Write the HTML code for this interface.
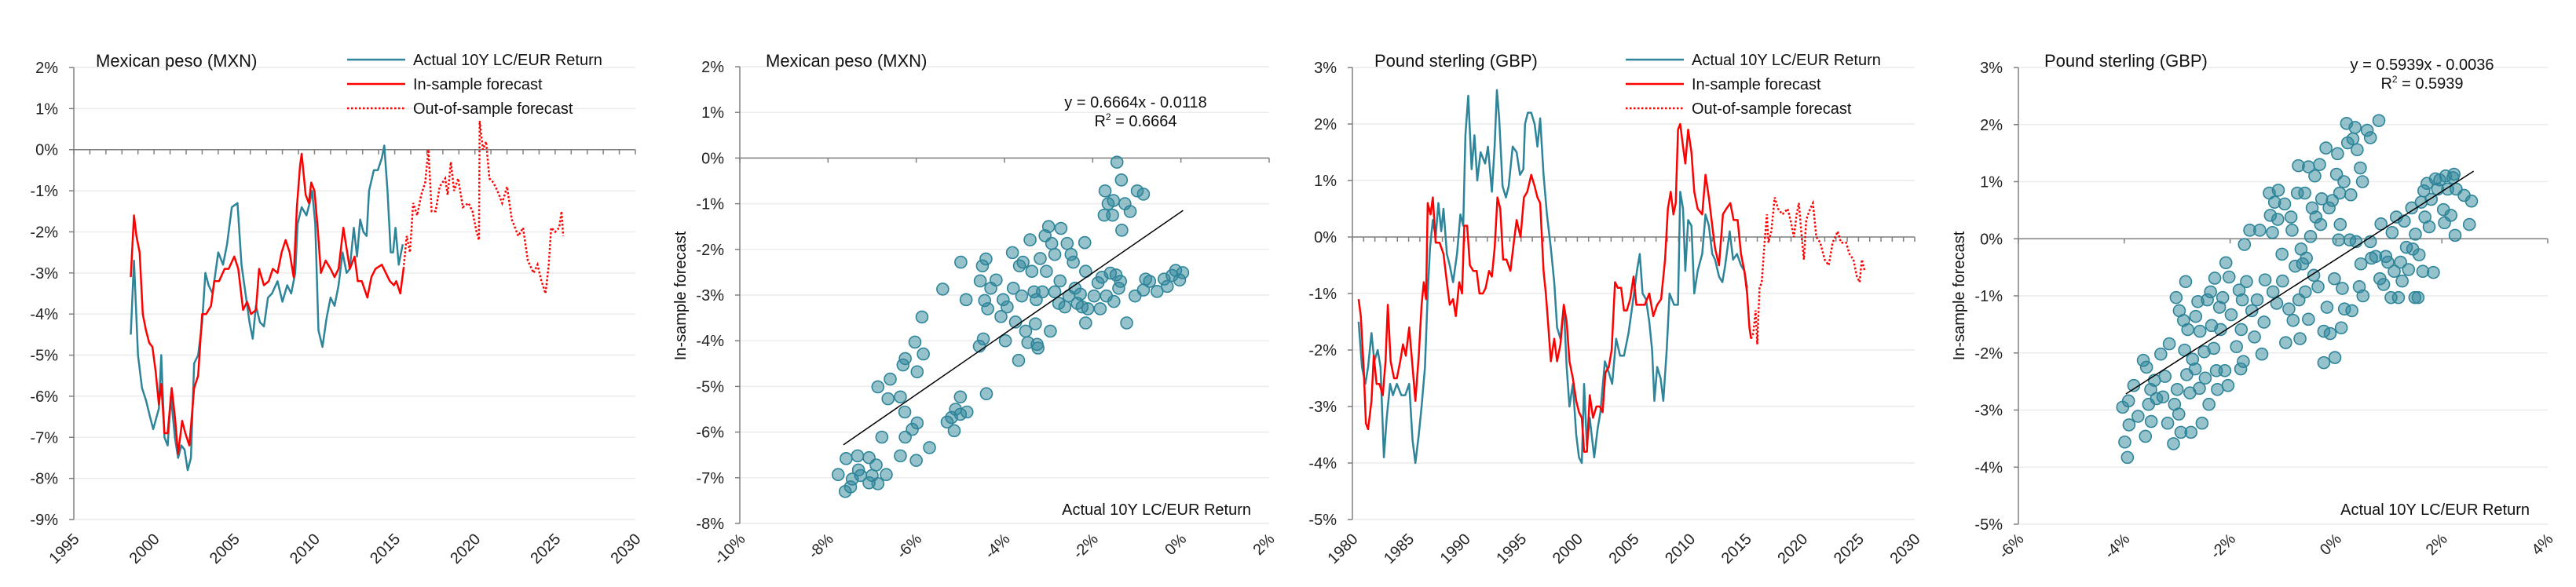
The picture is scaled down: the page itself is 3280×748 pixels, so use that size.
<!DOCTYPE html>
<html><head><meta charset="utf-8"><title>Actual vs forecast 10Y LC/EUR returns for MXN and GBP</title>
<style>
html,body{margin:0;padding:0;background:#fff;}
svg{display:block;font-family:"Liberation Sans",sans-serif;}
</style></head>
<body>
<svg id="chart" width="3280" height="748" viewBox="0 0 3280 748" xmlns="http://www.w3.org/2000/svg"></svg>
<script>
// ---------- MXN time series ----------
const mxnActYears = [1998.55,1998.75,1999.0,1999.25,1999.5,1999.75,1999.95,2000.3,2000.45,2000.65,2000.85,2001.05,2001.3,2001.5,2001.7,2001.9,2002.1,2002.3,2002.5,2002.75,2003.0,2003.2,2003.4,2003.65,2004.0,2004.3,2004.55,2004.85,2005.2,2005.45,2005.7,2005.95,2006.15,2006.35,2006.6,2006.85,2007.1,2007.35,2007.7,2008.0,2008.3,2008.55,2008.8,2008.95,2009.2,2009.5,2009.7,2009.85,2010.05,2010.25,2010.5,2010.75,2011.0,2011.25,2011.5,2011.75,2012.0,2012.2,2012.45,2012.65,2012.85,2013.05,2013.25,2013.4,2013.7,2013.95,2014.2,2014.35,2014.55,2014.75,2014.9,2015.05,2015.25,2015.5];
const mxnActVals = [-4.5,-2.7,-5.0,-5.8,-6.1,-6.5,-6.8,-6.3,-5.0,-7.0,-7.2,-6.0,-7.0,-7.5,-7.2,-7.3,-7.8,-7.5,-5.2,-5.0,-4.2,-3.0,-3.3,-3.5,-2.5,-2.8,-2.3,-1.4,-1.3,-2.8,-3.5,-4.2,-4.6,-3.8,-4.2,-4.3,-3.6,-3.5,-3.2,-3.7,-3.3,-3.5,-3.0,-1.8,-1.4,-1.6,-1.3,-1.0,-1.8,-4.4,-4.8,-4.1,-3.6,-3.8,-3.3,-2.5,-3.0,-2.9,-1.9,-2.6,-1.7,-2.0,-2.1,-1.0,-0.5,-0.5,-0.2,0.1,-1.0,-2.5,-2.5,-1.9,-2.8,-2.3];
const mxnInYears = [1998.55,1998.75,1998.9,1999.1,1999.3,1999.5,1999.7,1999.9,2000.1,2000.3,2000.45,2000.65,2000.85,2001.1,2001.3,2001.5,2001.75,2001.95,2002.2,2002.5,2002.75,2003.0,2003.25,2003.55,2003.75,2004.05,2004.4,2004.65,2005.0,2005.25,2005.55,2005.8,2006.05,2006.35,2006.55,2006.85,2007.15,2007.4,2007.7,2007.95,2008.2,2008.45,2008.7,2008.9,2009.1,2009.2,2009.45,2009.65,2009.8,2010.0,2010.2,2010.4,2010.7,2011.0,2011.25,2011.5,2011.8,2012.0,2012.2,2012.5,2012.7,2012.95,2013.3,2013.55,2013.8,2014.2,2014.45,2014.7,2014.95,2015.1,2015.35,2015.55];
const mxnInVals = [-3.1,-1.6,-2.1,-2.5,-4.0,-4.4,-4.7,-4.8,-5.4,-6.2,-5.7,-6.9,-6.9,-5.8,-6.5,-7.4,-6.6,-6.9,-7.2,-5.8,-5.5,-4.0,-4.0,-3.8,-3.2,-3.2,-2.9,-2.9,-2.6,-2.9,-3.9,-3.7,-4.0,-3.9,-2.9,-3.3,-3.2,-2.9,-3.0,-2.5,-2.2,-2.5,-3.1,-1.4,-0.4,-0.1,-1.1,-1.3,-0.8,-1.0,-1.9,-3.0,-2.7,-2.9,-3.1,-2.9,-1.9,-2.4,-2.9,-2.6,-3.2,-3.2,-3.6,-3.1,-2.9,-2.8,-3.0,-3.2,-3.3,-3.2,-3.5,-2.9];
const mxnOutYears = [2015.55,2015.75,2015.95,2016.15,2016.4,2016.65,2016.9,2017.1,2017.3,2017.55,2017.8,2018.15,2018.3,2018.5,2018.7,2018.95,2019.25,2019.6,2019.85,2020.1,2020.25,2020.3,2020.5,2020.7,2020.9,2021.15,2021.4,2021.7,2022.0,2022.3,2022.7,2023.0,2023.3,2023.65,2023.9,2024.15,2024.4,2024.6,2024.75,2025.0,2025.25,2025.4,2025.5];
const mxnOutVals = [-2.9,-2.1,-2.5,-1.3,-1.6,-1.1,-0.8,0.0,-1.5,-1.5,-0.9,-0.7,-1.1,-0.3,-1.0,-0.7,-1.4,-1.3,-1.5,-2.0,-2.2,0.7,0.0,0.2,-0.7,-0.8,-1.0,-1.3,-0.9,-1.7,-2.1,-1.9,-2.7,-3.0,-2.8,-3.2,-3.5,-2.8,-1.9,-2.0,-1.9,-1.5,-2.1];
const mxnYTicks = [2,1,0,-1,-2,-3,-4,-5,-6,-7,-8,-9];
const mxnXTicks = [1995,2000,2005,2010,2015,2020,2025,2030];

// ---------- MXN scatter ----------
const mxnScActual = [-7.77,-7.61,-7.59,-7.49,-7.45,-7.33,-7.31,-7.26,-7.07,-7.07,-7.0,-6.91,-6.87,-6.68,-6.87,-6.78,-6.64,-6.59,-6.36,-6.36,-6.30,-6.26,-6.25,-6.25,-6.09,-6.03,-6.0,-5.98,-5.98,-5.87,-5.84,-5.70,-5.40,-5.30,-5.20,-5.14,-5.11,-5.0,-5.0,-4.99,-4.87,-4.85,-4.57,-4.55,-4.50,-4.48,-4.45,-4.42,-4.41,-4.38,-4.31,-4.19,-4.08,-4.03,-3.98,-3.94,-3.82,-3.80,-3.75,-3.68,-3.66,-3.61,-3.58,-3.52,-3.47,-3.42,-3.38,-3.33,-3.30,-3.28,-3.26,-3.24,-3.19,-3.14,-3.08,-3.05,-3.0,-2.96,-2.93,-2.86,-2.86,-2.77,-2.74,-2.72,-2.63,-2.58,-2.54,-2.49,-2.44,-2.40,-2.35,-2.28,-2.24,-2.18,-2.16,-2.16,-2.11,-1.97,-1.88,-1.83,-1.79,-1.74,-1.72,-1.69,-1.65,-1.60,-1.55,-1.53,-1.52,-1.47,-1.45,-1.41,-1.37,-1.35,-1.34,-1.27,-1.23,-1.15,-1.04,-0.99,-0.85,-0.85,-0.80,-0.71,-0.54,-0.38,-0.31,-0.20,-0.12,-0.03,0.04];
const mxnScForecast = [-6.93,-7.30,-6.58,-7.20,-7.03,-6.52,-6.83,-6.95,-6.56,-7.11,-6.95,-6.72,-7.13,-6.93,-5.01,-6.11,-5.27,-4.84,-5.23,-6.52,-4.53,-5.56,-4.39,-6.11,-5.94,-4.03,-6.62,-5.80,-4.68,-3.48,-4.29,-6.34,-2.87,-5.78,-5.68,-5.97,-5.50,-5.23,-5.61,-2.28,-3.10,-5.56,-4.12,-2.69,-2.36,-3.96,-3.12,-2.21,-5.16,-3.30,-2.85,-2.67,-3.47,-3.10,-4.0,-3.26,-2.07,-2.85,-3.59,-4.43,-2.36,-3.02,-2.28,-3.79,-4.04,-1.79,-2.48,-2.93,-3.63,-3.10,-4.08,-4.16,-2.20,-2.93,-1.70,-2.48,-1.50,-3.79,-1.87,-2.11,-2.93,-3.18,-2.69,-1.54,-3.26,-1.87,-3.02,-2.11,-2.28,-2.85,-3.18,-2.98,-3.26,-1.85,-2.48,-3.61,-3.30,-3.02,-2.73,-3.30,-2.61,-1.25,-0.72,-3.02,-1.0,-2.52,-1.25,-0.93,-3.14,-2.56,-0.09,-2.85,-2.70,-0.48,-1.58,-1.0,-3.61,-1.17,-3.02,-0.72,-0.79,-2.89,-2.65,-2.70,-2.92,-2.65,-2.81,-2.57,-2.46,-2.67,-2.51];
const mxnTrend = [0.6664, -1.18];
const mxnTrendRange = [-7.65, 0.05];
const mxnScXTicks = [-10,-8,-6,-4,-2,0,2];
const mxnScYTicks = [2,1,0,-1,-2,-3,-4,-5,-6,-7,-8];

// ---------- GBP time series ----------
const gbpActYears = [1980.55,1980.85,1981.15,1981.4,1981.7,1981.95,1982.25,1982.5,1982.8,1983.05,1983.35,1983.6,1983.95,1984.35,1984.7,1985.05,1985.35,1985.6,1985.9,1986.15,1986.45,1986.7,1986.9,1987.15,1987.4,1987.65,1987.9,1988.1,1988.4,1988.65,1988.95,1989.3,1989.6,1989.85,1990.05,1990.3,1990.6,1990.85,1991.1,1991.4,1991.8,1992.05,1992.4,1992.65,1992.85,1993.05,1993.35,1993.65,1993.9,1994.25,1994.6,1994.9,1995.2,1995.35,1995.6,1995.9,1996.2,1996.45,1996.7,1997.0,1997.3,1997.65,1997.95,1998.2,1998.5,1998.8,1999.05,1999.3,1999.6,1999.9,2000.15,2000.4,2000.6,2000.85,2001.1,2001.5,2001.8,2002.05,2002.45,2002.8,2003.1,2003.45,2003.8,2004.15,2004.55,2004.9,2005.3,2005.55,2005.8,2006.1,2006.4,2006.65,2006.85,2007.1,2007.4,2007.65,2007.95,2008.2,2008.6,2008.95,2009.15,2009.4,2009.6,2009.85,2010.15,2010.4,2010.7,2011.1,2011.4,2011.7,2012.0,2012.25,2012.6,2012.9,2013.15,2013.55,2013.85,2014.2,2014.55,2014.85,2015.1];
const gbpActVals = [-1.5,-2.3,-2.6,-2.3,-1.7,-2.2,-2.0,-2.3,-3.9,-3.2,-2.6,-2.8,-2.6,-2.8,-2.8,-2.6,-3.6,-4.0,-3.5,-3.0,-2.3,-1.0,-0.2,0.3,0.0,0.6,0.1,0.5,-0.3,-0.5,-0.8,-0.3,0.4,0.2,1.8,2.5,1.2,1.8,1.0,1.5,1.3,1.6,0.8,1.6,2.6,2.1,0.9,0.7,0.9,1.6,1.5,1.1,1.2,2.0,2.2,2.2,2.0,1.6,2.1,1.1,0.4,-0.2,-0.8,-1.6,-1.8,-1.2,-2.3,-3.0,-2.6,-3.5,-3.9,-4.0,-2.6,-3.7,-3.2,-3.9,-3.4,-3.1,-2.2,-2.4,-2.6,-1.8,-2.1,-2.1,-1.7,-1.2,-0.6,-0.3,-1.0,-1.1,-1.5,-2.0,-2.9,-2.3,-2.5,-2.9,-2.0,-1.0,-1.2,-1.2,0.8,0.5,-0.6,0.3,0.2,-1.0,-0.6,-0.3,0.4,0.2,-0.3,-0.4,-0.7,-0.8,-0.5,0.1,-0.4,-0.3,-0.5,-0.6,-0.9];
const gbpInYears = [1980.55,1980.75,1981.0,1981.2,1981.4,1981.7,1981.9,1982.15,1982.4,1982.7,1982.95,1983.15,1983.4,1983.7,1983.95,1984.25,1984.5,1984.75,1985.05,1985.35,1985.6,1985.9,1986.15,1986.35,1986.55,1986.7,1986.95,1987.15,1987.4,1987.75,1988.1,1988.4,1988.65,1988.95,1989.2,1989.5,1989.75,1989.95,1990.2,1990.45,1990.75,1991.05,1991.3,1991.6,1991.85,1992.15,1992.4,1992.65,1992.9,1993.15,1993.4,1993.7,1994.05,1994.35,1994.6,1994.95,1995.25,1995.55,1995.9,1996.2,1996.45,1996.7,1997.0,1997.2,1997.35,1997.65,1997.95,1998.2,1998.5,1998.8,1999.05,1999.3,1999.6,1999.9,2000.15,2000.4,2000.6,2000.85,2001.1,2001.4,2001.7,2002.0,2002.25,2002.5,2002.8,2003.05,2003.35,2003.6,2003.9,2004.15,2004.4,2004.7,2005.0,2005.25,2005.6,2006.0,2006.4,2006.75,2007.1,2007.45,2007.8,2008.05,2008.3,2008.55,2008.75,2008.95,2009.15,2009.4,2009.6,2009.85,2010.15,2010.4,2010.7,2011.1,2011.4,2011.7,2012.0,2012.25,2012.6,2012.95,2013.25,2013.6,2013.9,2014.25,2014.55,2014.85,2015.1,2015.3,2015.45];
const gbpInVals = [-1.1,-1.4,-2.3,-3.3,-3.4,-2.9,-2.1,-2.6,-2.6,-2.8,-2.2,-1.2,-2.2,-2.5,-2.5,-2.2,-1.9,-2.1,-1.6,-2.3,-2.9,-2.1,-1.2,-0.8,-1.1,0.6,0.4,0.7,-0.1,-0.1,-0.3,-0.8,-1.2,-1.1,-1.4,-0.8,-1.0,0.2,0.2,-0.5,-0.6,-0.6,-1.0,-1.0,-0.9,-0.6,-0.7,-0.2,0.7,0.5,-0.4,-0.4,-0.6,-0.1,0.3,0.0,0.7,0.8,1.1,0.9,0.7,0.6,-0.6,-1.0,-1.4,-2.2,-1.8,-2.2,-1.9,-1.2,-1.5,-2.2,-2.5,-2.9,-3.1,-3.2,-3.8,-3.8,-2.8,-3.2,-3.0,-3.0,-3.1,-2.4,-2.3,-2.0,-0.8,-0.9,-0.9,-1.3,-1.3,-1.1,-0.7,-1.2,-1.2,-1.2,-1.0,-1.4,-1.2,-1.1,-0.4,0.5,0.8,0.4,0.6,1.9,2.0,1.6,1.3,1.9,1.5,0.8,0.5,0.4,1.1,0.7,0.2,-0.2,-0.5,0.4,0.5,0.6,0.3,0.3,-0.3,-0.6,-1.0,-1.6,-1.8];
const gbpOutYears = [2015.45,2015.65,2015.85,2016.0,2016.2,2016.4,2016.65,2016.85,2017.0,2017.25,2017.55,2017.85,2018.25,2018.7,2018.95,2019.25,2019.5,2019.7,2019.95,2020.15,2020.35,2020.7,2020.95,2021.25,2021.6,2022.0,2022.35,2022.7,2023.15,2023.45,2023.9,2024.2,2024.55,2024.85,2025.1,2025.3,2025.55];
const gbpOutVals = [-1.8,-1.7,-1.3,-1.9,-0.9,-0.8,-0.1,0.4,-0.1,0.1,0.7,0.5,0.4,0.5,0.3,0.0,0.4,0.6,0.0,-0.4,0.3,0.5,0.6,0.0,-0.1,-0.4,-0.5,-0.1,0.1,-0.1,-0.1,-0.3,-0.4,-0.7,-0.8,-0.4,-0.6];
const gbpYTicks = [3,2,1,0,-1,-2,-3,-4,-5];
const gbpXTicks = [1980,1985,1990,1995,2000,2005,2010,2015,2020,2025,2030];

// ---------- GBP scatter ----------
const gbpScActual = [-4.03,-3.99,-3.94,-3.92,-3.91,-3.82,-3.74,-3.64,-3.60,-3.58,-3.54,-3.50,-3.49,-3.43,-3.39,-3.31,-3.27,-3.23,-3.18,-3.15,-3.07,-3.05,-3.02,-3.0,-2.97,-2.96,-2.93,-2.88,-2.86,-2.84,-2.82,-2.80,-2.76,-2.74,-2.71,-2.66,-2.65,-2.61,-2.58,-2.57,-2.53,-2.49,-2.47,-2.43,-2.40,-2.37,-2.35,-2.31,-2.29,-2.26,-2.24,-2.20,-2.18,-2.14,-2.10,-2.08,-2.04,-2.02,-1.98,-1.88,-1.83,-1.80,-1.79,-1.77,-1.75,-1.73,-1.69,-1.63,-1.59,-1.54,-1.49,-1.44,-1.40,-1.36,-1.34,-1.26,-1.24,-1.20,-1.19,-1.16,-1.12,-1.10,-1.09,-1.02,-1.01,-0.97,-0.95,-0.89,-0.85,-0.83,-0.81,-0.77,-0.73,-0.71,-0.70,-0.68,-0.66,-0.63,-0.59,-0.58,-0.56,-0.52,-0.52,-0.48,-0.45,-0.42,-0.40,-0.38,-0.34,-0.31,-0.29,-0.27,-0.23,-0.23,-0.19,-0.17,-0.13,-0.11,-0.07,-0.03,-0.02,0.01,0.03,0.05,0.07,0.08,0.10,0.12,0.15,0.16,0.20,0.22,0.26,0.28,0.30,0.32,0.36,0.38,0.40,0.44,0.46,0.47,0.50,0.51,0.59,0.65,0.65,0.67,0.75,0.81,0.83,0.85,0.90,0.94,0.98,1.04,1.06,1.10,1.14,1.18,1.22,1.25,1.29,1.33,1.37,1.43,1.45,1.49,1.50,1.55,1.57,1.61,1.64,1.66,1.68,1.72,1.76,1.80,1.84,1.88,1.92,1.96,2.03,2.05,2.07,2.11,2.17,2.21,2.23,2.25,2.27,2.42,2.52,2.56];
const gbpScForecast = [-2.95,-3.56,-3.83,-2.84,-3.26,-2.57,-3.11,-2.13,-3.46,-2.25,-2.90,-2.64,-3.20,-2.48,-2.80,-2.02,-2.77,-2.41,-3.23,-1.84,-3.59,-2.90,-1.03,-2.64,-3.07,-1.26,-3.39,-1.43,-1.95,-0.75,-2.38,-1.59,-2.70,-3.39,-2.11,-2.28,-1.36,-1.10,-2.62,-1.62,-3.23,-1.98,-2.44,-1.07,-2.90,-0.93,-1.52,-1.92,-0.69,-2.31,-2.64,-1.20,-1.59,-1.03,-2.31,-0.42,-2.57,-0.67,-1.33,-1.89,-0.90,-2.28,-1.59,-1.07,-2.15,-0.10,-0.75,0.15,-1.26,-1.72,-1.07,0.15,-2.02,-1.46,-0.72,0.80,0.41,0.11,-0.93,0.64,-1.13,0.34,0.85,-0.27,-0.74,0.61,-1.82,-1.23,0.38,0.15,-1.43,-0.48,0.80,1.28,-1.07,-1.75,-0.18,-0.44,0.80,-0.93,-0.34,1.26,-1.41,0.04,0.54,-0.64,1.10,0.38,-0.84,1.30,0.25,0.70,-2.17,-1.62,1.59,-1.20,0.54,-1.66,0.67,-0.70,-2.08,1.13,1.49,-0.02,0.80,0.25,-1.56,-0.87,1.0,-1.23,2.02,1.68,-0.02,0.77,-1.26,1.75,1.95,-0.05,1.56,-0.84,1.24,-0.44,1.0,-1.0,1.90,-0.05,1.77,-0.34,-0.31,2.07,-0.70,0.26,-0.80,-0.31,-0.41,-1.03,0.11,-0.57,0.38,-1.03,-0.41,-0.74,0.31,-0.15,-0.54,0.54,-0.18,-1.03,0.08,-1.03,-0.28,0.64,-0.57,0.84,0.38,0.97,0.21,0.69,-0.59,1.05,0.87,1.03,0.51,0.28,1.10,0.87,0.41,1.07,1.13,0.06,0.87,0.76,0.25,0.66];
const gbpTrend = [0.5939, -0.36];
const gbpTrendRange = [-3.97, 2.6];
const gbpScXTicks = [-6,-4,-2,0,2,4];
const gbpScYTicks = [3,2,1,0,-1,-2,-3,-4,-5];

// ---------- drawing ----------
const NS = 'http://www.w3.org/2000/svg';
const svg = document.getElementById('chart');
const BLUE = '#2e8599', RED = '#ff0000', AX = '#808080', GRID = '#ececec';
function mk(tag, attrs, parent) {
  const e = document.createElementNS(NS, tag);
  for (const k in attrs) e.setAttribute(k, attrs[k]);
  (parent || svg).appendChild(e);
  return e;
}
function scale(d0, d1, r0, r1) { return v => r0 + (v - d0) * (r1 - r0) / (d1 - d0); }
function pct(v) { return (v < 0 ? '-' : '') + Math.abs(v) + '%'; }

function frame(g, cfg, X, Y) {
  // gridlines
  cfg.yTicks.forEach(t => {
    const gl = mk('line', {x1: cfg.x0, x2: cfg.x1, y1: Y(t), y2: Y(t), stroke: GRID, 'stroke-width': 1.5}, g);
    
    
  });
  // y axis
  const ya = mk('line', {x1: cfg.x0, x2: cfg.x0, y1: Y(cfg.yTicks[0]), y2: Y(cfg.yTicks[cfg.yTicks.length - 1]), stroke: AX, 'stroke-width': 1.5}, g);
  
  
  cfg.yTicks.forEach(t => {
    const tk = mk('line', {x1: cfg.x0 - 6, x2: cfg.x0, y1: Y(t), y2: Y(t), stroke: AX, 'stroke-width': 1.5}, g);
    
    
    const tl = mk('text', {x: cfg.x0 - 20, y: Y(t) + 7, 'text-anchor': 'end', 'font-size': 20, fill: '#222'}, g);
    tl.textContent = pct(t);
    
    
  });
  // zero line with ticks
  const zl = mk('line', {x1: cfg.x0, x2: cfg.x1, y1: Y(0), y2: Y(0), stroke: AX, 'stroke-width': 1.5}, g);
  
  
  for (let v = cfg.xMin; v <= cfg.xMax + 1e-9; v += cfg.minorStep) {
    const mt = mk('line', {x1: X(v), x2: X(v), y1: Y(0), y2: Y(0) + 6, stroke: AX, 'stroke-width': 1.5}, g);
    
    
  }
  cfg.xTicks.forEach(t => {
    const px = X(t) + 8, py = 688;
    const xl = mk('text', {x: px, y: py, 'text-anchor': 'end', 'font-size': 20, fill: '#222', transform: `rotate(-45 ${px} ${py})`}, g);
    xl.textContent = cfg.pctX ? pct(t) : String(t);
    
    
  });
  const tt = mk('text', {x: cfg.titleX, y: 85, 'font-size': 22, fill: '#111'}, g);
  tt.textContent = cfg.title;
  
  
}

function pathFrom(xs, ys, X, Y) {
  return xs.map((x, i) => (i ? 'L' : 'M') + X(x).toFixed(1) + ' ' + Y(ys[i]).toFixed(1)).join(' ');
}

function linePanel(cfg, act, actY, ins, insY, out, outY) {
  const g = mk('g', {});
  
  
  const X = scale(cfg.xMin, cfg.xMax, cfg.x0, cfg.x1);
  const Y = scale(cfg.yTicks[0], cfg.yTicks[cfg.yTicks.length - 1], cfg.yT, cfg.yB);
  frame(g, cfg, X, Y);
  const pa = mk('path', {d: pathFrom(act, actY, X, Y), fill: 'none', stroke: BLUE, 'stroke-width': 2.5, 'stroke-linejoin': 'round'}, g);
  
  
  const pi = mk('path', {d: pathFrom(ins, insY, X, Y), fill: 'none', stroke: RED, 'stroke-width': 2.5, 'stroke-linejoin': 'round'}, g);
  
  
  const po = mk('path', {d: pathFrom(out, outY, X, Y), fill: 'none', stroke: RED, 'stroke-width': 2.5, 'stroke-dasharray': '2.5 2.5'}, g);
  
  
  // legend
  const lg = mk('g', {}, g);
  
  
  const items = [['Actual 10Y LC/EUR Return', BLUE, ''], ['In-sample forecast', RED, ''], ['Out-of-sample forecast', RED, '2.5 2.5']];
  items.forEach((it, i) => {
    const yy = 76 + i * 31;
    const ln = mk('line', {x1: cfg.legX, x2: cfg.legX + 74, y1: yy, y2: yy, stroke: it[1], 'stroke-width': 2.5, 'stroke-dasharray': it[2] || 'none'}, lg);
    
    
    const tx = mk('text', {x: cfg.legX + 84, y: yy + 7, 'font-size': 20, fill: '#111'}, lg);
    tx.textContent = it[0];
    
    
  });
}

function scatterPanel(cfg, xs, ys, trend, range) {
  const g = mk('g', {});
  
  
  const X = scale(cfg.xMin, cfg.xMax, cfg.x0, cfg.x1);
  const Y = scale(cfg.yTicks[0], cfg.yTicks[cfg.yTicks.length - 1], cfg.yT, cfg.yB);
  frame(g, cfg, X, Y);
  xs.forEach((x, i) => {
    const c = mk('circle', {cx: X(x), cy: Y(ys[i]), r: 7.5, fill: 'rgba(46,133,153,0.5)', stroke: BLUE, 'stroke-width': 1.6}, g);
    
    
  });
  const tl = mk('line', {x1: X(range[0]), y1: Y(trend[0] * range[0] + trend[1]), x2: X(range[1]), y2: Y(trend[0] * range[1] + trend[1]), stroke: '#000', 'stroke-width': 1.5}, g);
  
  
  const eq = mk('text', {x: cfg.eqX, y: cfg.eqY, 'text-anchor': 'middle', 'font-size': 20, fill: '#111'}, g);
  eq.textContent = 'y = ' + trend[0].toFixed(4) + 'x - ' + Math.abs(trend[1] / 100).toFixed(4);
  
  
  const r2 = mk('text', {x: cfg.eqX, y: cfg.eqY + 24, 'text-anchor': 'middle', 'font-size': 20, fill: '#111'}, g);
  r2.innerHTML = 'R<tspan dy="-8" font-size="12">2</tspan><tspan dy="8"> = ' + trend[0].toFixed(4) + '</tspan>';
  
  
  const xt = mk('text', {x: cfg.x1 - 23, y: 656, 'text-anchor': 'end', 'font-size': 20, fill: '#111'}, g);
  xt.textContent = 'Actual 10Y LC/EUR Return';
  
  
  const yt = mk('text', {x: cfg.yTitleX, y: 377, 'text-anchor': 'middle', 'font-size': 20, fill: '#111', transform: `rotate(-90 ${cfg.yTitleX} 377)`}, g);
  yt.textContent = 'In-sample forecast';
  
  
}

linePanel({name: 'mxn-time-series-panel', title: 'Mexican peso (MXN)', titleX: 122, x0: 94, x1: 809, yT: 86, yB: 662, xMin: 1995, xMax: 2030, minorStep: 1, xTicks: mxnXTicks, yTicks: mxnYTicks, legX: 442},
  mxnActYears, mxnActVals, mxnInYears, mxnInVals, mxnOutYears, mxnOutVals);
scatterPanel({name: 'mxn-scatter-panel', title: 'Mexican peso (MXN)', titleX: 975, x0: 942, x1: 1616, yT: 85, yB: 667, xMin: -10, xMax: 2, minorStep: 2, xTicks: mxnScXTicks, yTicks: mxnScYTicks, pctX: true, eqX: 1446, eqY: 137, yTitleX: 873},
  mxnScActual, mxnScForecast, mxnTrend, mxnTrendRange);
linePanel({name: 'gbp-time-series-panel', title: 'Pound sterling (GBP)', titleX: 1750, x0: 1722, x1: 2438, yT: 86, yB: 662, xMin: 1980, xMax: 2030, minorStep: 1, xTicks: gbpXTicks, yTicks: gbpYTicks, legX: 2070},
  gbpActYears, gbpActVals, gbpInYears, gbpInVals, gbpOutYears, gbpOutVals);
scatterPanel({name: 'gbp-scatter-panel', title: 'Pound sterling (GBP)', titleX: 2603, x0: 2570, x1: 3244, yT: 86, yB: 668, xMin: -6, xMax: 4, minorStep: 2, xTicks: gbpScXTicks, yTicks: gbpScYTicks, pctX: true, eqX: 3084, eqY: 89, yTitleX: 2501},
  gbpScActual, gbpScForecast, gbpTrend, gbpTrendRange);
</script>
</body></html>
